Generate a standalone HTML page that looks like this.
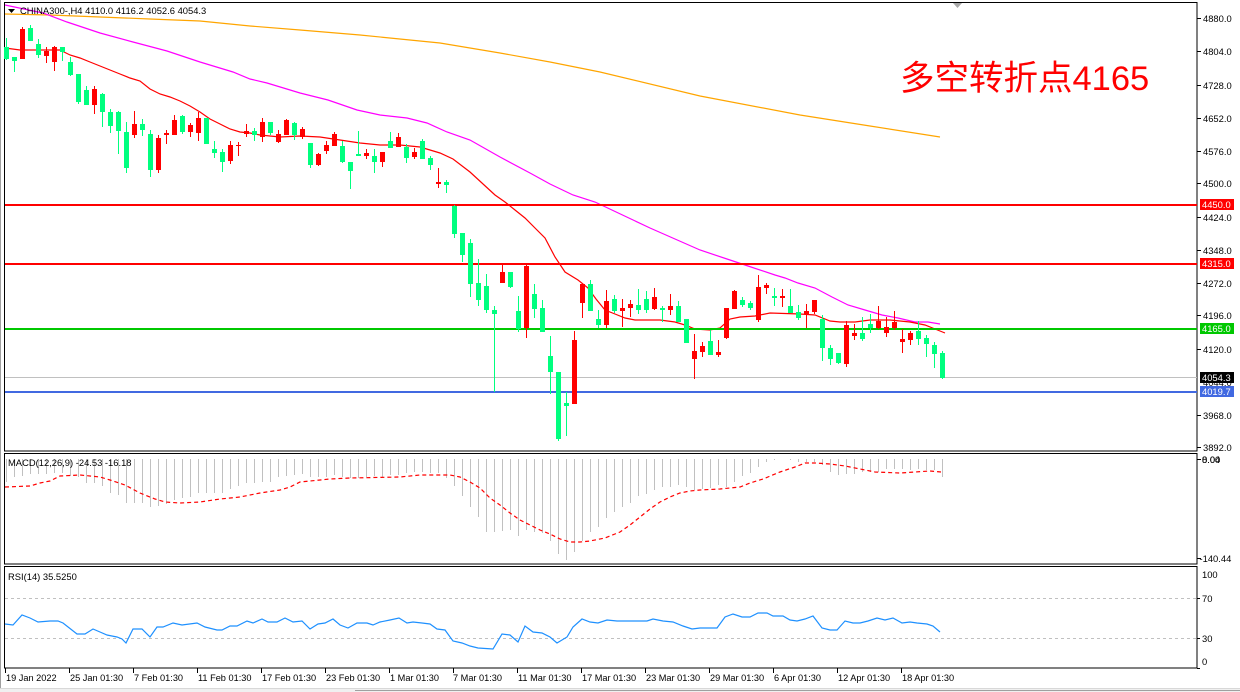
<!DOCTYPE html>
<html><head><meta charset="utf-8"><style>
html,body{margin:0;padding:0;background:#fff;}
svg{display:block;}
text{font-family:"Liberation Sans",sans-serif;}
</style></head><body>
<svg width="1240" height="692" viewBox="0 0 1240 692" xmlns="http://www.w3.org/2000/svg">
<rect x="0" y="0" width="1240" height="692" fill="#fff"/>
<line x1="0.5" y1="0" x2="0.5" y2="688" stroke="#a0a0a0"/>
<!-- panel frames -->
<rect x="4.5" y="2.5" width="1192.5" height="448.5" fill="none" stroke="#000"/>
<rect x="4.5" y="453.5" width="1192.5" height="110.5" fill="none" stroke="#000"/>
<rect x="4.5" y="566.5" width="1192.5" height="101.5" fill="none" stroke="#000"/>
<polygon points="953,3 962,3 957.5,8" fill="#a8a8a8"/>

<!-- MA lines -->
<polyline fill="none" stroke="#ffa500" stroke-width="1.2" points="5,14 50,15 100,17 150,19 200,21 250,26 300,30 360,35 440,43 500,53 550,62 600,72 700,96 800,115 870,126 940,137"/>
<polyline fill="none" stroke="#ff00ff" stroke-width="1.2" points="5,5 43,13 67,22 100,33 133,42 167,51 200,62 233,72 250,79 267,83 300,93 328,100 357,110 380,115 407,118 427,123 447,132 470,140 500,157 530,173 550,184 573,195 595,202 650,228 700,250 730,260 745,265 775,275 785,278 798,283 815,288 832,297 848,305 865,310 882,315 898,318 915,322 928,322 940,324"/>
<polyline fill="none" stroke="#ff0000" stroke-width="1.2" points="5,48 20,50 60,50 70,55 80,58 90,62 100,66 110,70 120,74 130,78 140,81 150,89 160,94 170,97 180,101 190,106 200,112 210,119 220,124 230,129 240,132 250,133 260,135 280,137 300,136 320,137 340,140 360,143 380,145 400,145 420,147 440,153 453,159 470,172 495,195 505,202 515,210 525,218 535,228 545,238 555,257 565,272 578,280 588,288 596,299 605,310 615,314 625,318 635,320 660,320 675,322 685,325 695,329 710,330 720,328 730,319 740,317 755,316 770,313 800,314 815,315 830,321 840,322 855,322 870,320 890,320 910,322 925,325 940,331 945,333"/>

<!-- horizontal levels -->
<rect x="5" y="204" width="1192" height="2" fill="#ff0000"/>
<rect x="5" y="263" width="1192" height="2" fill="#ff0000"/>
<rect x="5" y="328" width="1192" height="2" fill="#00c800"/>
<rect x="5" y="377" width="1192" height="1" fill="#c0c0c0"/>
<rect x="5" y="391" width="1192" height="2" fill="#4169e1"/>

<!-- green candles -->
<g fill="#00ff7f">
<rect x="6" y="38" width="1" height="22"/><rect x="4" y="47" width="5" height="12"/>
<rect x="14" y="57" width="1" height="15"/><rect x="12" y="57" width="5" height="4"/>
<rect x="30" y="25" width="1" height="16"/><rect x="28" y="28" width="5" height="13"/>
<rect x="38" y="39" width="1" height="19"/><rect x="36" y="44" width="5" height="11"/>
<rect x="62" y="47" width="1" height="14"/><rect x="60" y="47" width="5" height="5"/>
<rect x="70" y="57" width="1" height="19"/><rect x="68" y="62" width="5" height="13"/>
<rect x="78" y="74" width="1" height="30"/><rect x="76" y="74" width="5" height="28"/>
<rect x="86" y="86" width="1" height="19"/><rect x="84" y="90" width="5" height="15"/>
<rect x="102" y="93" width="1" height="34"/><rect x="100" y="94" width="5" height="18"/>
<rect x="110" y="109" width="1" height="24"/><rect x="108" y="112" width="5" height="14"/>
<rect x="118" y="111" width="1" height="43"/><rect x="116" y="112" width="5" height="19"/>
<rect x="126" y="122" width="1" height="51"/><rect x="124" y="132" width="5" height="36"/>
<rect x="142" y="119" width="1" height="17"/><rect x="140" y="124" width="5" height="6"/>
<rect x="150" y="130" width="1" height="47"/><rect x="148" y="134" width="5" height="36"/>
<rect x="182" y="115" width="1" height="19"/><rect x="180" y="116" width="5" height="16"/>
<rect x="206" y="118" width="1" height="26"/><rect x="204" y="118" width="5" height="26"/>
<rect x="214" y="141" width="1" height="17"/><rect x="212" y="149" width="5" height="4"/>
<rect x="222" y="149" width="1" height="23"/><rect x="220" y="152" width="5" height="10"/>
<rect x="254" y="128" width="1" height="13"/><rect x="252" y="131" width="5" height="4"/>
<rect x="270" y="122" width="1" height="13"/><rect x="268" y="122" width="5" height="11"/>
<rect x="294" y="122" width="1" height="18"/><rect x="292" y="123" width="5" height="12"/>
<rect x="310" y="143" width="1" height="25"/><rect x="308" y="143" width="5" height="22"/>
<rect x="342" y="141" width="1" height="22"/><rect x="340" y="146" width="5" height="16"/>
<rect x="350" y="162" width="1" height="27"/><rect x="348" y="162" width="5" height="9"/>
<rect x="358" y="131" width="1" height="25"/><rect x="356" y="154" width="5" height="2"/>
<rect x="374" y="149" width="1" height="24"/><rect x="372" y="156" width="5" height="6"/>
<rect x="390" y="132" width="1" height="16"/><rect x="388" y="141" width="5" height="7"/>
<rect x="406" y="144" width="1" height="19"/><rect x="404" y="147" width="5" height="11"/>
<rect x="422" y="139" width="1" height="20"/><rect x="420" y="141" width="5" height="18"/>
<rect x="430" y="156" width="1" height="14"/><rect x="428" y="158" width="5" height="7"/>
<rect x="446" y="180" width="1" height="13"/><rect x="444" y="182" width="5" height="3"/>
<rect x="454" y="205" width="1" height="33"/><rect x="452" y="206" width="5" height="28"/>
<rect x="462" y="233" width="1" height="29"/><rect x="460" y="233" width="5" height="22"/>
<rect x="470" y="239" width="1" height="58"/><rect x="468" y="243" width="5" height="41"/>
<rect x="478" y="259" width="1" height="47"/><rect x="476" y="283" width="5" height="17"/>
<rect x="486" y="274" width="1" height="39"/><rect x="484" y="286" width="5" height="24"/>
<rect x="494" y="306" width="1" height="86"/><rect x="492" y="310" width="5" height="4"/>
<rect x="510" y="272" width="1" height="16"/><rect x="508" y="272" width="5" height="15"/>
<rect x="518" y="296" width="1" height="36"/><rect x="516" y="311" width="5" height="18"/>
<rect x="534" y="284" width="1" height="34"/><rect x="532" y="294" width="5" height="15"/>
<rect x="542" y="300" width="1" height="32"/><rect x="540" y="308" width="5" height="24"/>
<rect x="550" y="336" width="1" height="58"/><rect x="548" y="356" width="5" height="16"/>
<rect x="558" y="372" width="1" height="69"/><rect x="556" y="372" width="5" height="67"/>
<rect x="566" y="392" width="1" height="44"/><rect x="564" y="403" width="5" height="3"/>
<rect x="590" y="280" width="1" height="31"/><rect x="588" y="284" width="5" height="27"/>
<rect x="598" y="310" width="1" height="18"/><rect x="596" y="319" width="5" height="6"/>
<rect x="614" y="295" width="1" height="18"/><rect x="612" y="299" width="5" height="12"/>
<rect x="638" y="289" width="1" height="25"/><rect x="636" y="305" width="5" height="5"/>
<rect x="646" y="291" width="1" height="22"/><rect x="644" y="299" width="5" height="11"/>
<rect x="662" y="306" width="1" height="16"/><rect x="660" y="308" width="5" height="2"/>
<rect x="678" y="301" width="1" height="21"/><rect x="676" y="306" width="5" height="16"/>
<rect x="686" y="319" width="1" height="24"/><rect x="684" y="319" width="5" height="24"/>
<rect x="710" y="330" width="1" height="25"/><rect x="708" y="341" width="5" height="14"/>
<rect x="742" y="297" width="1" height="10"/><rect x="740" y="300" width="5" height="5"/>
<rect x="750" y="301" width="1" height="9"/><rect x="748" y="303" width="5" height="5"/>
<rect x="774" y="288" width="1" height="18"/><rect x="772" y="296" width="5" height="2"/>
<rect x="790" y="289" width="1" height="24"/><rect x="788" y="306" width="5" height="7"/>
<rect x="798" y="305" width="1" height="15"/><rect x="796" y="312" width="5" height="6"/>
<rect x="822" y="315" width="1" height="46"/><rect x="820" y="319" width="5" height="29"/>
<rect x="830" y="345" width="1" height="20"/><rect x="828" y="348" width="5" height="11"/>
<rect x="838" y="353" width="1" height="11"/><rect x="836" y="353" width="5" height="10"/>
<rect x="862" y="317" width="1" height="24"/><rect x="860" y="333" width="5" height="6"/>
<rect x="870" y="314" width="1" height="19"/><rect x="868" y="324" width="5" height="4"/>
<rect x="918" y="321" width="1" height="24"/><rect x="916" y="331" width="5" height="8"/>
<rect x="926" y="335" width="1" height="22"/><rect x="924" y="338" width="5" height="6"/>
<rect x="934" y="342" width="1" height="26"/><rect x="932" y="345" width="5" height="9"/>
<rect x="942" y="351" width="1" height="28"/><rect x="940" y="353" width="5" height="25"/>
</g>
<!-- red candles -->
<g fill="#ff0000">
<rect x="22" y="27" width="1" height="32"/><rect x="20" y="29" width="5" height="30"/>
<rect x="46" y="47" width="1" height="16"/><rect x="44" y="51" width="5" height="5"/>
<rect x="54" y="46" width="1" height="25"/><rect x="52" y="47" width="5" height="15"/>
<rect x="94" y="86" width="1" height="28"/><rect x="92" y="89" width="5" height="16"/>
<rect x="134" y="111" width="1" height="27"/><rect x="132" y="124" width="5" height="11"/>
<rect x="158" y="135" width="1" height="38"/><rect x="156" y="138" width="5" height="32"/>
<rect x="166" y="130" width="1" height="14"/><rect x="164" y="133" width="5" height="2"/>
<rect x="174" y="115" width="1" height="20"/><rect x="172" y="120" width="5" height="15"/>
<rect x="190" y="123" width="1" height="14"/><rect x="188" y="125" width="5" height="7"/>
<rect x="198" y="112" width="1" height="29"/><rect x="196" y="118" width="5" height="15"/>
<rect x="230" y="141" width="1" height="23"/><rect x="228" y="145" width="5" height="16"/>
<rect x="238" y="142" width="1" height="14"/><rect x="236" y="145" width="5" height="1"/>
<rect x="246" y="124" width="1" height="13"/><rect x="244" y="131" width="5" height="3"/>
<rect x="262" y="118" width="1" height="24"/><rect x="260" y="122" width="5" height="15"/>
<rect x="278" y="130" width="1" height="13"/><rect x="276" y="134" width="5" height="8"/>
<rect x="286" y="119" width="1" height="16"/><rect x="284" y="120" width="5" height="15"/>
<rect x="302" y="127" width="1" height="12"/><rect x="300" y="129" width="5" height="8"/>
<rect x="318" y="153" width="1" height="13"/><rect x="316" y="154" width="5" height="11"/>
<rect x="326" y="141" width="1" height="13"/><rect x="324" y="145" width="5" height="6"/>
<rect x="334" y="132" width="1" height="14"/><rect x="332" y="134" width="5" height="12"/>
<rect x="366" y="149" width="1" height="10"/><rect x="364" y="153" width="5" height="3"/>
<rect x="382" y="152" width="1" height="15"/><rect x="380" y="152" width="5" height="10"/>
<rect x="398" y="133" width="1" height="14"/><rect x="396" y="137" width="5" height="10"/>
<rect x="414" y="148" width="1" height="11"/><rect x="412" y="152" width="5" height="5"/>
<rect x="438" y="168" width="1" height="20"/><rect x="436" y="182" width="5" height="2"/>
<rect x="502" y="264" width="1" height="19"/><rect x="500" y="272" width="5" height="11"/>
<rect x="526" y="264" width="1" height="74"/><rect x="524" y="266" width="5" height="62"/>
<rect x="574" y="331" width="1" height="73"/><rect x="572" y="340" width="5" height="64"/>
<rect x="582" y="284" width="1" height="34"/><rect x="580" y="284" width="5" height="19"/>
<rect x="606" y="290" width="1" height="38"/><rect x="604" y="301" width="5" height="24"/>
<rect x="622" y="299" width="1" height="28"/><rect x="620" y="308" width="5" height="3"/>
<rect x="630" y="300" width="1" height="17"/><rect x="628" y="304" width="5" height="4"/>
<rect x="654" y="288" width="1" height="22"/><rect x="652" y="297" width="5" height="12"/>
<rect x="670" y="294" width="1" height="21"/><rect x="668" y="306" width="5" height="4"/>
<rect x="694" y="334" width="1" height="45"/><rect x="692" y="351" width="5" height="8"/>
<rect x="702" y="342" width="1" height="15"/><rect x="700" y="346" width="5" height="6"/>
<rect x="718" y="340" width="1" height="17"/><rect x="716" y="352" width="5" height="3"/>
<rect x="726" y="308" width="1" height="31"/><rect x="724" y="308" width="5" height="30"/>
<rect x="734" y="290" width="1" height="19"/><rect x="732" y="291" width="5" height="18"/>
<rect x="758" y="275" width="1" height="47"/><rect x="756" y="287" width="5" height="33"/>
<rect x="766" y="283" width="1" height="11"/><rect x="764" y="285" width="5" height="3"/>
<rect x="782" y="289" width="1" height="18"/><rect x="780" y="296" width="5" height="2"/>
<rect x="806" y="304" width="1" height="24"/><rect x="804" y="311" width="5" height="3"/>
<rect x="814" y="300" width="1" height="14"/><rect x="812" y="300" width="5" height="12"/>
<rect x="846" y="321" width="1" height="46"/><rect x="844" y="325" width="5" height="39"/>
<rect x="854" y="324" width="1" height="16"/><rect x="852" y="333" width="5" height="3"/>
<rect x="878" y="306" width="1" height="23"/><rect x="876" y="321" width="5" height="7"/>
<rect x="886" y="317" width="1" height="20"/><rect x="884" y="327" width="5" height="6"/>
<rect x="894" y="311" width="1" height="19"/><rect x="892" y="322" width="5" height="6"/>
<rect x="902" y="329" width="1" height="24"/><rect x="900" y="339" width="5" height="3"/>
<rect x="910" y="331" width="1" height="14"/><rect x="908" y="333" width="5" height="7"/>
</g>

<!-- header -->
<polygon points="8,9 15,9 11.5,13" fill="#000"/>
<text x="20" y="14" font-size="9.4" fill="#000">CHINA300-,H4  4110.0 4116.2 4052.6 4054.3</text>
<text x="900" y="90" font-size="34.5" fill="#ff0000" style="font-family:'Liberation Sans','Noto Sans CJK SC',sans-serif">多空转折点4165</text>

<!-- price axis -->
<g stroke="#000">
<line x1="1197" y1="18.5" x2="1201" y2="18.5"/><line x1="1197" y1="51.5" x2="1201" y2="51.5"/>
<line x1="1197" y1="85.5" x2="1201" y2="85.5"/><line x1="1197" y1="118.5" x2="1201" y2="118.5"/>
<line x1="1197" y1="151.5" x2="1201" y2="151.5"/><line x1="1197" y1="183.5" x2="1201" y2="183.5"/>
<line x1="1197" y1="217.5" x2="1201" y2="217.5"/><line x1="1197" y1="250.5" x2="1201" y2="250.5"/>
<line x1="1197" y1="283.5" x2="1201" y2="283.5"/><line x1="1197" y1="315.5" x2="1201" y2="315.5"/>
<line x1="1197" y1="349.5" x2="1201" y2="349.5"/><line x1="1197" y1="415.5" x2="1201" y2="415.5"/>
<line x1="1197" y1="447.5" x2="1201" y2="447.5"/>
</g>
<g font-size="9.4" fill="#000">
<text x="1203" y="22">4880.0</text><text x="1203" y="55">4804.0</text>
<text x="1203" y="89">4728.0</text><text x="1203" y="122">4652.0</text>
<text x="1203" y="155">4576.0</text><text x="1203" y="187">4500.0</text>
<text x="1203" y="221">4424.0</text><text x="1203" y="254">4348.0</text>
<text x="1203" y="287">4272.0</text><text x="1203" y="319">4196.0</text>
<text x="1203" y="353">4120.0</text><text x="1203" y="386">4044.0</text>
<text x="1203" y="419">3968.0</text><text x="1203" y="451">3892.0</text>
</g>
<rect x="1200" y="199" width="34" height="11" fill="#ff0000"/>
<rect x="1200" y="258" width="34" height="11" fill="#ff0000"/>
<rect x="1200" y="323" width="34" height="11" fill="#00c800"/>
<rect x="1200" y="372" width="34" height="11" fill="#000"/>
<rect x="1200" y="386" width="34" height="11" fill="#4169e1"/>
<g font-size="9.4" fill="#fff">
<text x="1202" y="208">4450.0</text>
<text x="1202" y="267">4315.0</text>
<text x="1202" y="332">4165.0</text>
<text x="1202" y="381">4054.3</text>
<text x="1202" y="395">4019.7</text>
</g>

<!-- MACD -->
<path stroke="#c0c0c0" stroke-width="1" fill="none" d="M6.5 459V482M14.5 459V477M22.5 459V476M30.5 459V474M38.5 459V474M46.5 459V474M54.5 459V473M62.5 459V473M70.5 459V476M78.5 459V477M86.5 459V483M94.5 459V483M102.5 459V486M110.5 459V493M118.5 459V495M126.5 459V503M134.5 459V503M142.5 459V503M150.5 459V507M158.5 459V506M166.5 459V504M174.5 459V500M182.5 459V498M190.5 459V497M198.5 459V493M206.5 459V493M214.5 459V493M222.5 459V493M230.5 459V489M238.5 459V486M246.5 459V483M254.5 459V483M262.5 459V482M270.5 459V482M278.5 459V477M286.5 459V476M294.5 459V475M302.5 459V474M310.5 459V477M318.5 459V477M326.5 459V477M334.5 459V475M342.5 459V477M350.5 459V478M358.5 459V478M366.5 459V477M374.5 459V476M382.5 459V477M390.5 459V475M398.5 459V475M406.5 459V473M414.5 459V472M422.5 459V472M430.5 459V473M438.5 459V473M446.5 459V478M454.5 459V486M462.5 459V496M470.5 459V507M478.5 459V517M486.5 459V532M494.5 459V532M502.5 459V531M510.5 459V530M518.5 459V536M526.5 459V530M534.5 459V532M542.5 459V533M550.5 459V541M558.5 459V554M566.5 459V560M574.5 459V552M582.5 459V541M590.5 459V532M598.5 459V527M606.5 459V518M614.5 459V512M622.5 459V507M630.5 459V503M638.5 459V496M646.5 459V494M654.5 459V490M662.5 459V487M670.5 459V487M678.5 459V485M686.5 459V487M694.5 459V490M702.5 459V489M710.5 459V488M718.5 459V485M726.5 459V487M734.5 459V482M742.5 459V476M750.5 459V473M758.5 459V467M766.5 459V462M774.5 459V460M790.5 459V460M798.5 459V462M806.5 459V462M814.5 459V462M822.5 459V465M830.5 459V472M838.5 459V475M846.5 459V474M854.5 459V474M862.5 459V472M870.5 459V472M878.5 459V472M886.5 459V469M894.5 459V469M902.5 459V469M910.5 459V470M918.5 459V469M926.5 459V470M934.5 459V470M942.5 459V477"/>
<polyline fill="none" stroke="#ff0000" stroke-width="1.2" stroke-dasharray="4 3" points="5,487 30,486 40,483 50,481 60,476 80,475 100,477 110,480 125,485 140,493 155,499 165,502 180,503 200,502 220,499 240,497 260,493 280,490 290,487 300,482 310,481 330,479 350,478 400,477 420,475 450,475 460,477 470,482 480,488 490,498 500,505 510,513 520,520 530,525 540,530 550,534 560,539 570,542 580,542 590,541 605,538 620,532 630,525 640,517 650,509 660,502 670,497 680,493 690,491 700,490 720,489 740,487 750,483 763,479 780,472 795,467 805,463 815,463 830,464 845,466 860,469 875,472 900,473 930,471 941,472"/>
<text x="8" y="466" font-size="9.4" fill="#000">MACD(12,26,9) -24.53 -16.18</text>
<line x1="1197" y1="459.5" x2="1201" y2="459.5" stroke="#000"/>
<line x1="1197" y1="558.5" x2="1201" y2="558.5" stroke="#000"/>
<g font-size="9.4" fill="#000">
<text x="1202" y="463">0.00</text><text x="1202" y="463">8.04</text>
<text x="1199.5" y="562">-140.44</text>
</g>

<!-- RSI -->
<line x1="5" y1="598.5" x2="1197" y2="598.5" stroke="#c0c0c0" stroke-dasharray="3 3"/>
<line x1="5" y1="638.5" x2="1197" y2="638.5" stroke="#c0c0c0" stroke-dasharray="3 3"/>
<polyline fill="none" stroke="#1e90ff" stroke-width="1.2" points="5,624 13,625 22,615 30,618 38,622 50,621 58,621 63,623 77,634 85,634 93,629 100,632 107,635 117,637 122,639 126,643 133,629 142,629 150,637 157,627 163,627 173,623 182,625 197,623 205,627 217,630 222,630 230,626 237,626 247,621 253,623 262,619 268,622 277,622 285,618 293,622 302,621 310,629 318,624 325,623 333,619 340,625 348,628 357,623 367,623 373,625 380,622 390,620 399,618 407,623 413,622 422,623 430,624 437,629 445,630 453,641 462,643 470,646 478,648 493,649 502,634 510,635 518,642 525,626 533,632 542,633 550,637 557,643 567,637 573,627 582,619 590,622 598,623 607,620 617,621 633,621 647,621 653,619 663,621 673,622 683,626 692,629 700,628 717,628 725,617 733,614 742,617 750,617 758,613 767,613 773,616 783,616 790,620 797,621 805,619 813,616 822,628 830,630 837,630 845,621 853,623 860,623 868,621 877,618 885,620 893,618 902,623 910,622 917,623 927,624 933,626 940,632"/>
<text x="8" y="580" font-size="9.4" fill="#000">RSI(14) 35.5250</text>
<g stroke="#000">
<line x1="1197" y1="598.5" x2="1200" y2="598.5"/><line x1="1197" y1="638.5" x2="1200" y2="638.5"/>
<line x1="1197" y1="668.5" x2="1200" y2="668.5"/>
</g>
<g font-size="9.4" fill="#000">
<text x="1202" y="578">100</text><text x="1202" y="602">70</text>
<text x="1202" y="642">30</text><text x="1202" y="665">0</text>
</g>

<!-- time axis -->
<path stroke="#000" d="M5.5 668V673M69.5 668V673M133.5 668V673M197.5 668V673M261.5 668V673M325.5 668V673M389.5 668V673M453.5 668V673M517.5 668V673M581.5 668V673M645.5 668V673M709.5 668V673M773.5 668V673M837.5 668V673M901.5 668V673"/>
<g font-size="9.2" fill="#000">
<text x="6" y="681">19 Jan 2022</text>
<text x="70" y="681">25 Jan 01:30</text>
<text x="134" y="681">7 Feb 01:30</text>
<text x="198" y="681">11 Feb 01:30</text>
<text x="262" y="681">17 Feb 01:30</text>
<text x="326" y="681">23 Feb 01:30</text>
<text x="390" y="681">1 Mar 01:30</text>
<text x="453" y="681">7 Mar 01:30</text>
<text x="518" y="681">11 Mar 01:30</text>
<text x="582" y="681">17 Mar 01:30</text>
<text x="646" y="681">23 Mar 01:30</text>
<text x="710" y="681">29 Mar 01:30</text>
<text x="774" y="681">6 Apr 01:30</text>
<text x="838" y="681">12 Apr 01:30</text>
<text x="902" y="681">18 Apr 01:30</text>
</g>
<rect x="0" y="688" width="1240" height="4" fill="#f0f0f0"/>
<line x1="0" y1="688.5" x2="1240" y2="688.5" stroke="#d8d8d8"/>
<line x1="355" y1="690.5" x2="1240" y2="690.5" stroke="#a0a0a0"/>
</svg>
</body></html>
